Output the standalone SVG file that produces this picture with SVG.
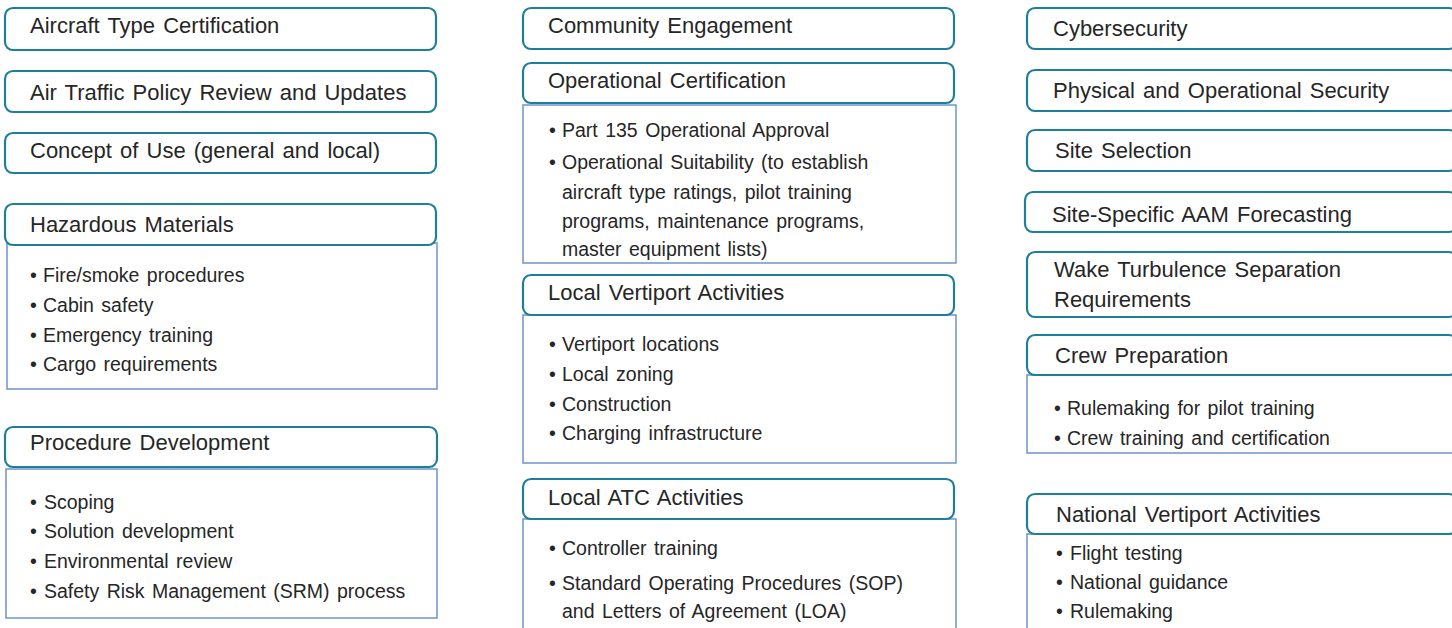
<svg xmlns="http://www.w3.org/2000/svg" width="1452" height="628" viewBox="0 0 1452 628">
<style>
.hd{fill:#ffffff;stroke:#1e7f99;stroke-width:2.2}
.bd{fill:#ffffff;stroke:#6f93cc;stroke-width:1.5}
.t{font-family:"Liberation Sans",Arial,sans-serif;font-size:22px;fill:#262626;word-spacing:2px}
.b{font-family:"Liberation Sans",Arial,sans-serif;font-size:19.5px;fill:#262626;word-spacing:2px}
</style>
<rect width="1452" height="628" fill="#ffffff"/>

<g id="aircraft-type-certification">
<rect class="hd" x="5" y="8" width="431" height="42" rx="8"/>
<text class="t" x="30" y="33">Aircraft Type Certification</text>
</g>
<g id="air-traffic-policy">
<rect class="hd" x="5" y="71" width="431" height="41" rx="8"/>
<text class="t" x="30" y="100">Air Traffic Policy Review and Updates</text>
</g>
<g id="concept-of-use">
<rect class="hd" x="5" y="133" width="431" height="40" rx="8"/>
<text class="t" x="30" y="158">Concept of Use (general and local)</text>
</g>
<g id="hazardous-materials">
<rect class="bd" x="7" y="243" width="430" height="146"/>
<rect class="hd" x="5" y="204" width="431" height="41" rx="8"/>
<text class="t" x="30" y="232">Hazardous Materials</text>
<text class="b"><tspan x="30" y="282">•</tspan><tspan x="43" y="282">Fire/smoke procedures</tspan></text>
<text class="b"><tspan x="30" y="312">•</tspan><tspan x="43" y="312">Cabin safety</tspan></text>
<text class="b"><tspan x="30" y="342">•</tspan><tspan x="43" y="342">Emergency training</tspan></text>
<text class="b"><tspan x="30" y="371">•</tspan><tspan x="43" y="371">Cargo requirements</tspan></text>
</g>
<g id="procedure-development">
<rect class="bd" x="6" y="469" width="431" height="149"/>
<rect class="hd" x="5" y="427" width="432" height="40" rx="8"/>
<text class="t" x="30" y="450">Procedure Development</text>
<text class="b"><tspan x="30" y="509">•</tspan><tspan x="44" y="509">Scoping</tspan></text>
<text class="b"><tspan x="30" y="538">•</tspan><tspan x="44" y="538">Solution development</tspan></text>
<text class="b"><tspan x="30" y="568">•</tspan><tspan x="44" y="568">Environmental review</tspan></text>
<text class="b"><tspan x="30" y="598">•</tspan><tspan x="44" y="598">Safety Risk Management (SRM) process</tspan></text>
</g>

<g id="community-engagement">
<rect class="hd" x="523" y="8" width="431" height="41" rx="8"/>
<text class="t" x="548" y="33">Community Engagement</text>
</g>
<g id="operational-certification">
<rect class="bd" x="523" y="105" width="433" height="158"/>
<rect class="hd" x="523" y="63" width="431" height="40" rx="8"/>
<text class="t" x="548" y="88">Operational Certification</text>
<text class="b"><tspan x="549" y="137">•</tspan><tspan x="562" y="137">Part 135 Operational Approval</tspan></text>
<text class="b"><tspan x="549" y="169">•</tspan><tspan x="562" y="169">Operational Suitability (to establish</tspan><tspan x="562" y="199">aircraft type ratings, pilot training</tspan><tspan x="562" y="228">programs, maintenance programs,</tspan><tspan x="562" y="256">master equipment lists)</tspan></text>
</g>
<g id="local-vertiport-activities">
<rect class="bd" x="523" y="315" width="433" height="148"/>
<rect class="hd" x="523" y="275" width="431" height="40" rx="8"/>
<text class="t" x="548" y="300">Local Vertiport Activities</text>
<text class="b"><tspan x="549" y="351">•</tspan><tspan x="562" y="351">Vertiport locations</tspan></text>
<text class="b"><tspan x="549" y="381">•</tspan><tspan x="562" y="381">Local zoning</tspan></text>
<text class="b"><tspan x="549" y="411">•</tspan><tspan x="562" y="411">Construction</tspan></text>
<text class="b"><tspan x="549" y="440">•</tspan><tspan x="562" y="440">Charging infrastructure</tspan></text>
</g>
<g id="local-atc-activities">
<rect class="bd" x="523" y="519" width="433" height="120"/>
<rect class="hd" x="523" y="479" width="431" height="40" rx="8"/>
<text class="t" x="548" y="505">Local ATC Activities</text>
<text class="b"><tspan x="549" y="555">•</tspan><tspan x="562" y="555">Controller training</tspan></text>
<text class="b"><tspan x="549" y="590">•</tspan><tspan x="562" y="590">Standard Operating Procedures (SOP)</tspan><tspan x="562" y="618">and Letters of Agreement (LOA)</tspan></text>
</g>

<g id="cybersecurity">
<rect class="hd" x="1027" y="8" width="430" height="41" rx="8"/>
<text class="t" x="1053" y="36">Cybersecurity</text>
</g>
<g id="physical-operational-security">
<rect class="hd" x="1027" y="70" width="430" height="41" rx="8"/>
<text class="t" x="1053" y="98">Physical and Operational Security</text>
</g>
<g id="site-selection">
<rect class="hd" x="1027" y="130" width="430" height="41" rx="8"/>
<text class="t" x="1055" y="158">Site Selection</text>
</g>
<g id="site-specific-aam-forecasting">
<rect class="hd" x="1025" y="192" width="432" height="40" rx="8"/>
<text class="t" x="1052" y="222">Site-Specific AAM Forecasting</text>
</g>
<g id="wake-turbulence">
<rect class="hd" x="1027" y="252" width="430" height="65" rx="8"/>
<text class="t"><tspan x="1054" y="277">Wake Turbulence Separation</tspan><tspan x="1054" y="307">Requirements</tspan></text>
</g>
<g id="crew-preparation">
<rect class="bd" x="1027" y="375" width="430" height="78"/>
<rect class="hd" x="1027" y="335" width="430" height="40" rx="8"/>
<text class="t" x="1055" y="363">Crew Preparation</text>
<text class="b"><tspan x="1054" y="415">•</tspan><tspan x="1067" y="415">Rulemaking for pilot training</tspan></text>
<text class="b"><tspan x="1054" y="445">•</tspan><tspan x="1067" y="445">Crew training and certification</tspan></text>
</g>
<g id="national-vertiport-activities">
<rect class="bd" x="1027" y="534" width="430" height="105"/>
<rect class="hd" x="1027" y="494" width="430" height="40" rx="8"/>
<text class="t" x="1056" y="522">National Vertiport Activities</text>
<text class="b"><tspan x="1056" y="560">•</tspan><tspan x="1070" y="560">Flight testing</tspan></text>
<text class="b"><tspan x="1056" y="589">•</tspan><tspan x="1070" y="589">National guidance</tspan></text>
<text class="b"><tspan x="1056" y="618">•</tspan><tspan x="1070" y="618">Rulemaking</tspan></text>
</g>
</svg>
